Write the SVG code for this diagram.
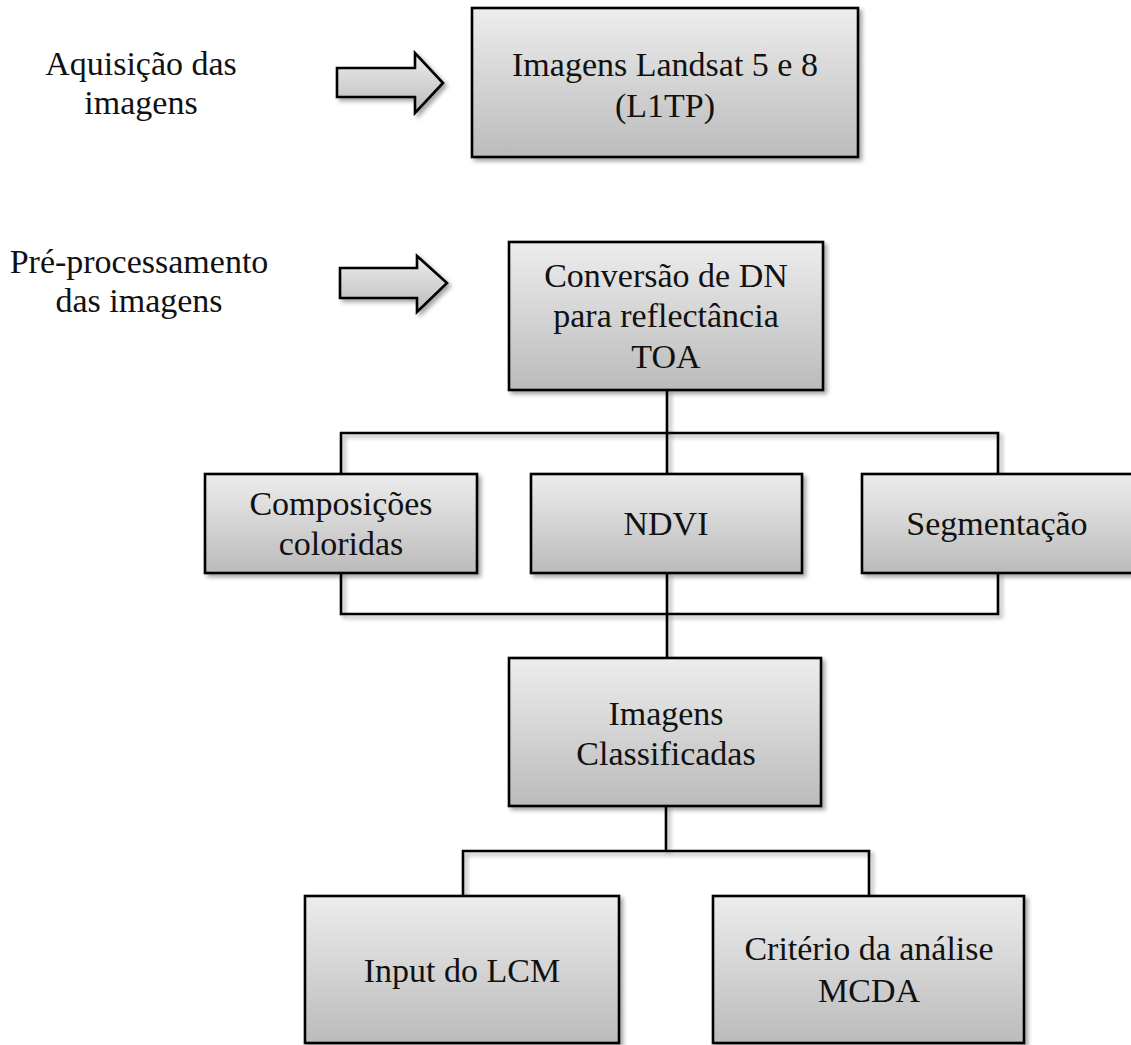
<svg xmlns="http://www.w3.org/2000/svg" width="1131" height="1045" viewBox="0 0 1131 1045">
<defs>
<linearGradient id="g" x1="0" y1="0" x2="0" y2="1">
<stop offset="0" stop-color="#ededed"/>
<stop offset="1" stop-color="#bbbbbb"/>
</linearGradient>
<filter id="sh" x="-10%" y="-10%" width="130%" height="130%">
<feDropShadow dx="3" dy="3" stdDeviation="2" flood-color="#000" flood-opacity="0.35"/>
</filter>
<style>
.box{fill:url(#g);stroke:#000;stroke-width:2.6;filter:url(#sh)}
.arr{fill:url(#g);stroke:#000;stroke-width:2.6;stroke-linejoin:miter;filter:url(#sh)}
.ln{fill:none;stroke:#000;stroke-width:2.6;filter:url(#sh)}
.t{font-family:'Liberation Serif','Tinos','Times New Roman','Noto Serif','DejaVu Serif',serif;font-size:34px;fill:#111;text-anchor:middle}
</style>
</defs>
<rect width="1131" height="1045" fill="#fff"/>

<g id="connectors">
<path class="ln" d="M666 157 V242"/>
<path class="ln" d="M667 390 V433 M341 474 V433 H998 V474 M667 433 V474"/>
<path class="ln" d="M341 573 V614 H998 V573 M667 573 V658"/>
<path class="ln" d="M666 806 V851 M463 896 V851 H869 V896"/>
</g>

<g id="label-aquisicao">
<text class="t" x="141" y="75">Aquisição das</text>
<text class="t" x="141" y="114">imagens</text>
</g>
<g id="arrow-aquisicao">
<path class="arr" d="M337 68 H415 V53 L443 83 L415 113 V97 H337 Z"/>
</g>

<g id="label-preproc">
<text class="t" x="139" y="273">Pré-processamento</text>
<text class="t" x="139" y="312">das imagens</text>
</g>
<g id="arrow-preproc">
<path class="arr" d="M340 268 H417 V256 L447 283 L417 312 V298 H340 Z"/>
</g>

<g id="n-landsat">
<rect class="box" x="472" y="8" width="386" height="149"/>
<text class="t" x="665" y="76">Imagens Landsat 5 e 8</text>
<text class="t" x="665" y="117">(L1TP)</text>
</g>

<g id="n-conversao">
<rect class="box" x="509" y="242" width="314" height="148"/>
<text class="t" x="666" y="287">Conversão de DN</text>
<text class="t" x="666" y="327">para reflectância</text>
<text class="t" x="666" y="368">TOA</text>
</g>

<g id="n-composicoes">
<rect class="box" x="205" y="474" width="272" height="99"/>
<text class="t" x="341" y="515">Composições</text>
<text class="t" x="341" y="555">coloridas</text>
</g>

<g id="n-ndvi">
<rect class="box" x="531" y="474" width="271" height="99"/>
<text class="t" x="666" y="535">NDVI</text>
</g>

<g id="n-segmentacao">
<rect class="box" x="862" y="474" width="275" height="99"/>
<text class="t" x="997" y="535">Segmentação</text>
</g>

<g id="n-classificadas">
<rect class="box" x="509" y="658" width="312" height="148"/>
<text class="t" x="666" y="725">Imagens</text>
<text class="t" x="666" y="765">Classificadas</text>
</g>

<g id="n-lcm">
<rect class="box" x="305" y="896" width="314" height="147"/>
<text class="t" x="462" y="982">Input do LCM</text>
</g>

<g id="n-mcda">
<rect class="box" x="713" y="896" width="311" height="147"/>
<text class="t" x="869" y="960">Critério da análise</text>
<text class="t" x="869" y="1002">MCDA</text>
</g>
</svg>
